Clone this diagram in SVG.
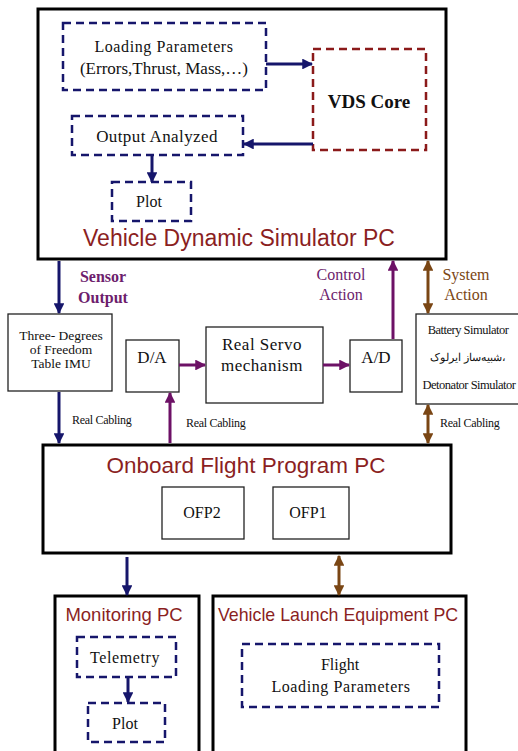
<svg xmlns="http://www.w3.org/2000/svg" width="518" height="751" viewBox="0 0 518 751">
<defs>
<marker id="hn" viewBox="0 0 10 10" refX="9" refY="5" markerWidth="3.6" markerHeight="3.6" orient="auto-start-reverse"><path d="M0,0 L10,5 L0,10 z" fill="#16166b"/></marker>
<marker id="hp" viewBox="0 0 10 10" refX="9" refY="5" markerWidth="3.6" markerHeight="3.6" orient="auto-start-reverse"><path d="M0,0 L10,5 L0,10 z" fill="#6d1166"/></marker>
<marker id="hb" viewBox="0 0 10 10" refX="9" refY="5" markerWidth="3.6" markerHeight="3.6" orient="auto-start-reverse"><path d="M0,0 L10,5 L0,10 z" fill="#7a4614"/></marker>
</defs>
<style>
.big{fill:#fff;stroke:#000;stroke-width:3}
.box{fill:#fff;stroke:#222;stroke-width:1.3}
.dn{fill:none;stroke:#16166b;stroke-width:2.5;stroke-dasharray:8 5}
.dr{fill:none;stroke:#8b1a1a;stroke-width:2.5;stroke-dasharray:8 5}
.t{font-family:"Liberation Serif",serif;fill:#111;text-anchor:middle}
.title{font-family:"Liberation Sans",Arial,sans-serif;fill:#8b1f1f;text-anchor:middle}
.lbl{font-family:"Liberation Serif",serif;fill:#6d1d6d;text-anchor:middle;font-size:16px}
.lblb{font-family:"Liberation Serif",serif;fill:#7a4614;text-anchor:middle;font-size:16px}
.rc{font-family:"Liberation Serif",serif;fill:#111;font-size:12px;letter-spacing:-0.3px}
.an{stroke:#16166b;stroke-width:3;fill:none;marker-end:url(#hn)}
.ap{stroke:#6d1166;stroke-width:3;fill:none;marker-end:url(#hp)}
.ab{stroke:#7a4614;stroke-width:3;fill:none;marker-end:url(#hb);marker-start:url(#hb)}
</style>
<rect width="518" height="751" fill="#fff"/>

<g id="vds-pc">
<rect class="big" x="38" y="9" width="408" height="250"/>
<text class="title" x="239" y="246" font-size="23">Vehicle Dynamic Simulator PC</text>
</g>
<g id="loading-params">
<rect class="dn" x="63" y="23" width="203" height="67"/>
<text class="t" x="164" y="52" font-size="16" letter-spacing="0.6">Loading Parameters</text>
<text class="t" x="164" y="74" font-size="17">(Errors,Thrust, Mass,…)</text>
</g>
<g id="vds-core">
<rect class="dr" x="313" y="49" width="113" height="101"/>
<text class="t" x="369" y="108" font-size="19" font-weight="bold">VDS Core</text>
</g>
<g id="output-analyzed">
<rect class="dn" x="72" y="116" width="171" height="39"/>
<text class="t" x="157" y="142" font-size="17" letter-spacing="0.4">Output Analyzed</text>
</g>
<g id="plot1">
<rect class="dn" x="112" y="182" width="79" height="39"/>
<text class="t" x="149" y="207" font-size="16">Plot</text>
</g>

<g id="imu">
<rect class="box" x="8" y="314" width="104" height="77"/>
<text class="t" x="61" y="340" font-size="13.5">Three- Degrees</text>
<text class="t" x="61" y="354" font-size="13.5">of Freedom</text>
<text class="t" x="61" y="368" font-size="13.5">Table IMU</text>
</g>
<g id="da">
<rect class="box" x="126" y="340" width="53" height="52"/>
<text class="t" x="152" y="363" font-size="17">D/A</text>
</g>
<g id="servo">
<rect class="box" x="206" y="327" width="117" height="76"/>
<text class="t" x="262" y="350" font-size="17" letter-spacing="0.5">Real Servo</text>
<text class="t" x="262" y="371" font-size="17" letter-spacing="0.5">mechanism</text>
</g>
<g id="ad">
<rect class="box" x="350" y="340" width="52" height="52"/>
<text class="t" x="376" y="363" font-size="17">A/D</text>
</g>
<g id="battery">
<rect class="box" x="416" y="314" width="104" height="90"/>
<text class="t" x="468" y="334" font-size="12.5" letter-spacing="-0.5">Battery Simulator</text>
<text class="t" x="468" y="361" font-size="11" fill="#a0521a" font-family="'DejaVu Sans',sans-serif">شبیه‌ساز ایرلوک،</text>
<text class="t" x="469" y="389" font-size="12.5" letter-spacing="-0.5">Detonator Simulator</text>
</g>

<g id="ofp-pc">
<rect class="big" x="43" y="445" width="408" height="108"/>
<text class="title" x="246" y="473" font-size="22.5">Onboard Flight Program PC</text>
</g>
<g id="ofp2">
<rect class="box" x="162" y="487" width="82" height="52"/>
<text class="t" x="202" y="518" font-size="16">OFP2</text>
</g>
<g id="ofp1">
<rect class="box" x="273" y="487" width="76" height="52"/>
<text class="t" x="308" y="518" font-size="16">OFP1</text>
</g>

<g id="monitoring-pc">
<rect class="big" x="55" y="596" width="144" height="160"/>
<text class="title" x="124" y="621" font-size="18.5">Monitoring PC</text>
</g>
<g id="telemetry">
<rect class="dn" x="77" y="637" width="99" height="40"/>
<text class="t" x="125" y="663" font-size="16" letter-spacing="0.6" fill="#16166b">Telemetry</text>
</g>
<g id="plot2">
<rect class="dn" x="88" y="703" width="77" height="39"/>
<text class="t" x="125" y="729" font-size="16">Plot</text>
</g>
<g id="launch-pc">
<rect class="big" x="213" y="596" width="253" height="160"/>
<text class="title" x="338" y="621" font-size="17.8">Vehicle Launch Equipment PC</text>
</g>
<g id="flight-loading">
<rect class="dn" x="242" y="644" width="197" height="63"/>
<text class="t" x="340" y="670" font-size="16">Flight</text>
<text class="t" x="341" y="692" font-size="16" letter-spacing="0.6">Loading Parameters</text>
</g>

<g id="connectors">
<line class="an" x1="266" y1="64" x2="312" y2="64"/>
<line class="an" x1="313" y1="144" x2="244" y2="144"/>
<line class="an" x1="152" y1="155" x2="152" y2="182"/>
<line class="an" x1="59" y1="261" x2="59" y2="313"/>
<line class="an" x1="59" y1="392" x2="59" y2="443"/>
<line class="ap" x1="179" y1="365" x2="205" y2="365"/>
<line class="ap" x1="323" y1="365" x2="349" y2="365"/>
<line class="ap" x1="393" y1="339" x2="393" y2="261"/>
<line class="ap" x1="170" y1="443" x2="170" y2="393"/>
<line class="ab" x1="428" y1="261" x2="428" y2="313"/>
<line class="ab" x1="428" y1="405" x2="428" y2="443"/>
<line class="an" x1="127" y1="557" x2="127" y2="595"/>
<line class="ab" x1="339" y1="556" x2="339" y2="595"/>
<line class="an" x1="128" y1="677" x2="128" y2="702"/>
<text class="lbl" x="103" y="282" font-weight="bold">Sensor</text>
<text class="lbl" x="103" y="303" font-weight="bold">Output</text>
<text class="lbl" x="341" y="280">Control</text>
<text class="lbl" x="341" y="300">Action</text>
<text class="lblb" x="466" y="280">System</text>
<text class="lblb" x="466" y="300">Action</text>
<text class="rc" x="72" y="424">Real Cabling</text>
<text class="rc" x="186" y="427">Real Cabling</text>
<text class="rc" x="440" y="427">Real Cabling</text>
</g>
</svg>
